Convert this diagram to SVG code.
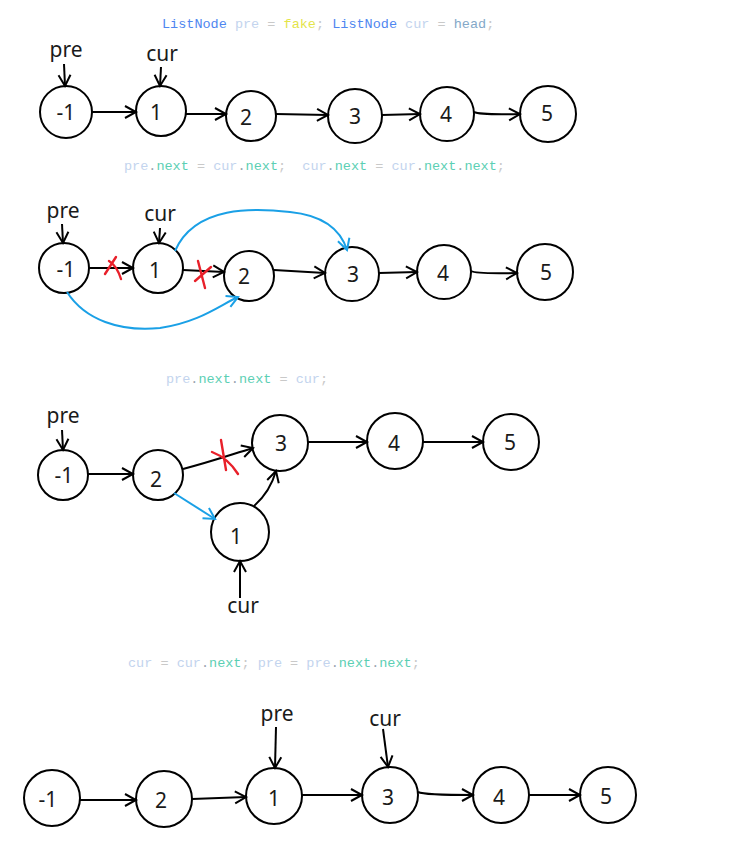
<svg xmlns="http://www.w3.org/2000/svg" width="734" height="862" viewBox="0 0 734 862">
<style>
.node circle{fill:#fff;stroke:#000;stroke-width:2}
.node text,.lbl{font-family:"Noto Sans","Open Sans",sans-serif;font-size:21px;fill:#1a1a1a;text-anchor:middle;dominant-baseline:central}
.lbl{font-size:21px}
.code{font-family:"Liberation Mono","DejaVu Sans Mono",monospace;font-size:13.5px}
.k{fill:#4f86f0}.v{fill:#c3d4ee}.o{fill:#c9c9c9}.y{fill:#e4e44a}.h{fill:#84a8c8}.n{fill:#5ccfb4}.d{fill:#9aa4b0}
.ln{fill:none;stroke:#000;stroke-width:2;marker-end:url(#ab)}
.bl{fill:none;stroke:#1aa0e6;stroke-width:2;marker-end:url(#abb)}
.x{fill:none;stroke:#e8202a;stroke-width:2.4;stroke-linecap:round}
</style>
<defs>
<marker id="ab" viewBox="0 0 12 12" refX="11" refY="6" markerWidth="12" markerHeight="12" markerUnits="userSpaceOnUse" orient="auto" overflow="visible">
<path d="M0,0 L11,6 L0,12" fill="none" stroke="#000" stroke-width="2"/>
</marker>
<marker id="abb" viewBox="0 0 12 12" refX="11" refY="6" markerWidth="12" markerHeight="12" markerUnits="userSpaceOnUse" orient="auto" overflow="visible">
<path d="M0,0 L11,6 L0,12" fill="none" stroke="#1aa0e6" stroke-width="2"/>
</marker>
</defs>
<rect width="734" height="862" fill="#fff"/>

<!-- code lines -->
<text class="code" x="162" y="28" xml:space="preserve"><tspan class="k">ListNode</tspan> <tspan class="v">pre</tspan> <tspan class="o">=</tspan> <tspan class="y">fake</tspan><tspan class="o">;</tspan> <tspan class="k">ListNode</tspan> <tspan class="v">cur</tspan> <tspan class="o">=</tspan> <tspan class="h">head</tspan><tspan class="o">;</tspan></text>
<text class="code" x="124" y="170" xml:space="preserve"><tspan class="v">pre</tspan><tspan class="d">.</tspan><tspan class="n">next</tspan> <tspan class="o">=</tspan> <tspan class="v">cur</tspan><tspan class="d">.</tspan><tspan class="n">next</tspan><tspan class="o">;</tspan>  <tspan class="v">cur</tspan><tspan class="d">.</tspan><tspan class="n">next</tspan> <tspan class="o">=</tspan> <tspan class="v">cur</tspan><tspan class="d">.</tspan><tspan class="n">next</tspan><tspan class="d">.</tspan><tspan class="n">next</tspan><tspan class="o">;</tspan></text>
<text class="code" x="166" y="383" xml:space="preserve"><tspan class="v">pre</tspan><tspan class="d">.</tspan><tspan class="n">next</tspan><tspan class="d">.</tspan><tspan class="n">next</tspan> <tspan class="o">=</tspan> <tspan class="v">cur</tspan><tspan class="o">;</tspan></text>
<text class="code" x="128" y="667" xml:space="preserve"><tspan class="v">cur</tspan> <tspan class="o">=</tspan> <tspan class="v">cur</tspan><tspan class="d">.</tspan><tspan class="n">next</tspan><tspan class="o">;</tspan> <tspan class="v">pre</tspan> <tspan class="o">=</tspan> <tspan class="v">pre</tspan><tspan class="d">.</tspan><tspan class="n">next</tspan><tspan class="d">.</tspan><tspan class="n">next</tspan><tspan class="o">;</tspan></text>

<!-- pointer labels -->
<text class="lbl" x="66" y="49">pre</text>
<text class="lbl" x="162" y="53">cur</text>
<text class="lbl" x="63" y="210">pre</text>
<text class="lbl" x="160" y="213">cur</text>
<text class="lbl" x="63" y="415">pre</text>
<text class="lbl" x="243" y="605">cur</text>
<text class="lbl" x="277" y="713">pre</text>
<text class="lbl" x="385" y="718">cur</text>

<!-- row 1 -->
<g id="r1n-1" class="node"><circle cx="66" cy="112" r="26"/><text x="66" y="112">-1</text></g>
<g id="r1n1" class="node"><circle cx="161" cy="111" r="25"/><text x="156" y="112">1</text></g>
<g id="r1n2" class="node"><circle cx="251" cy="116" r="25"/><text x="246" y="117">2</text></g>
<g id="r1n3" class="node"><circle cx="355" cy="116" r="27"/><text x="355" y="116">3</text></g>
<g id="r1n4" class="node"><circle cx="447" cy="114" r="27"/><text x="446" y="114">4</text></g>
<g id="r1n5" class="node"><circle cx="548" cy="114" r="28"/><text x="547" y="113">5</text></g>

<!-- row 2 -->
<g id="r2n-1" class="node"><circle cx="64" cy="268" r="25"/><text x="66" y="269">-1</text></g>
<g id="r2n1" class="node"><circle cx="158" cy="268" r="25"/><text x="155" y="270">1</text></g>
<g id="r2n2" class="node"><circle cx="249" cy="276" r="25"/><text x="244" y="276">2</text></g>
<g id="r2n3" class="node"><circle cx="352" cy="274" r="27"/><text x="353" y="274">3</text></g>
<g id="r2n4" class="node"><circle cx="444" cy="272" r="27"/><text x="443" y="273">4</text></g>
<g id="r2n5" class="node"><circle cx="545" cy="272" r="28"/><text x="546" y="272">5</text></g>

<!-- row 3 -->
<g id="r3n-1" class="node"><circle cx="63" cy="475" r="25"/><text x="64" y="475">-1</text></g>
<g id="r3n2" class="node"><circle cx="158" cy="475" r="25"/><text x="156" y="479">2</text></g>
<g id="r3n3" class="node"><circle cx="280" cy="443" r="28"/><text x="281" y="443">3</text></g>
<g id="r3n1" class="node"><circle cx="240" cy="532" r="29"/><text x="236" y="536">1</text></g>
<g id="r3n4" class="node"><circle cx="395" cy="441" r="28"/><text x="394" y="443">4</text></g>
<g id="r3n5" class="node"><circle cx="511" cy="442" r="28"/><text x="510" y="442">5</text></g>

<!-- row 4 -->
<g id="r4n-1" class="node"><circle cx="52" cy="798" r="28"/><text x="48" y="799">-1</text></g>
<g id="r4n2" class="node"><circle cx="164" cy="799" r="28"/><text x="161" y="800">2</text></g>
<g id="r4n1" class="node"><circle cx="274" cy="796" r="28"/><text x="274" y="798">1</text></g>
<g id="r4n3" class="node"><circle cx="390" cy="795" r="28"/><text x="388" y="797">3</text></g>
<g id="r4n4" class="node"><circle cx="501" cy="795" r="28"/><text x="499" y="797">4</text></g>
<g id="r4n5" class="node"><circle cx="608" cy="795" r="28"/><text x="606" y="796">5</text></g>

<g id="connectors">
<!-- row 1 -->
<path class="ln" d="M64,64 L65,86"/>
<path class="ln" d="M161,67 L160,86"/>
<path class="ln" d="M92,112 L136,112"/>
<path class="ln" d="M186,114 L226,114"/>
<path class="ln" d="M276,114 L328,115"/>
<path class="ln" d="M382,115 L420,114"/>
<path class="ln" d="M474,112 Q480,115 520,114"/>
<!-- row 2 -->
<path class="ln" d="M62,224 L63,243"/>
<path class="ln" d="M160,228 L159,243"/>
<path class="ln" d="M89,268 L133,268"/>
<path class="ln" d="M183,270 L224,272"/>
<path class="ln" d="M274,270 L325,273"/>
<path class="ln" d="M379,273 L417,272"/>
<path class="ln" d="M471,271 Q476,274 517,273"/>
<path class="bl" d="M175,251 C195,205 255,208 290,212 C320,215 340,228 347,250"/>
<path class="bl" d="M67,292 C85,320 120,332 160,328 C200,322 220,305 238,297"/>
<path class="x" d="M105,274 L116,257 M109,261 Q117,266 121,279"/>
<path class="x" d="M198,261 L205,288 M195,281 L211,267"/>
<!-- row 3 -->
<path class="ln" d="M62,430 L63,450"/>
<path class="ln" d="M88,474 L133,474"/>
<path class="ln" d="M183,469 C210,462 230,455 253,448"/>
<path class="bl" d="M174,493 L215,519"/>
<path class="ln" d="M254,506 Q270,492 276,471"/>
<path class="ln" d="M240,598 L240,561"/>
<path class="ln" d="M308,442 L367,442"/>
<path class="ln" d="M423,442 L483,442"/>
<path class="x" d="M221,440 L226,470 M212,452 Q228,458 238,474"/>
<!-- row 4 -->
<path class="ln" d="M276,727 L275,768"/>
<path class="ln" d="M383,729 L388,767"/>
<path class="ln" d="M80,800 L136,800"/>
<path class="ln" d="M192,799 L246,797"/>
<path class="ln" d="M302,795 L362,795"/>
<path class="ln" d="M418,792 Q424,795 473,795"/>
<path class="ln" d="M529,795 L580,795"/>
</g>
</svg>
